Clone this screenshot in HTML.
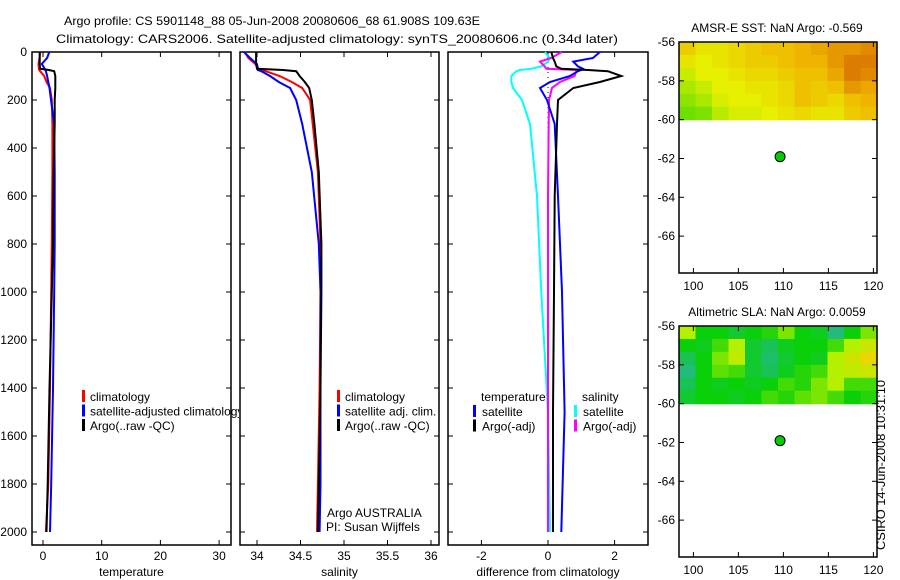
<!DOCTYPE html>
<html><head><meta charset="utf-8"><style>
html,body{margin:0;padding:0;background:#fff}
svg{display:block;font-family:"Liberation Sans",sans-serif}
text{font-size:12px;fill:#000}
</style></head><body>
<svg id="c" width="900" height="580" viewBox="0 0 900 580" xmlns="http://www.w3.org/2000/svg">
<text x="64" y="25" textLength="416" lengthAdjust="spacingAndGlyphs">Argo profile: CS 5901148_88 05-Jun-2008 20080606_68 61.908S 109.63E</text>
<text x="56" y="43" textLength="562" lengthAdjust="spacingAndGlyphs">Climatology: CARS2006. Satellite-adjusted climatology: synTS_20080606.nc (0.34d later)</text>
<text x="885" y="550" transform="rotate(-90 885 550)" textLength="170" lengthAdjust="spacingAndGlyphs">CSIRO 14-Jun-2008 10:31:10</text>
<g id="g"></g>
</svg>
<script>
// ---- data ----
const depthTicks=[0,200,400,600,800,1000,1200,1400,1600,1800,2000];
const tempTicks=[0,10,20,30];
const salTicks=[34,34.5,35,35.5,36];
const salTickLabels=["34","34.5","35","35.5","36"];
const diffTicks=[-2,0,2];
const depthP=[0,25,50,70,75,80,100,125,150,200,300,500,800,1000,1400,1800,2000];
const tempClim=[-0.5,-0.6,-0.77,-0.7,-0.65,-0.5,0.2,0.6,1.2,1.5,1.6,1.6,1.5,1.4,1.2,0.9,0.5];
const tempSat=[1.07,0.7,-0.2,0.3,0.4,0.5,0.7,0.9,1.1,1.36,1.9,2.0,2.0,1.9,1.7,1.4,1.2];
const tempArgo=[-0.57,-0.57,-0.57,-0.5,1.0,1.9,2.1,2.1,2.1,2.0,2.0,1.8,1.7,1.5,1.1,0.8,0.6];
const salClim=[33.86,33.9,33.98,34.02,34.05,34.1,34.26,34.4,34.52,34.61,34.64,34.70,34.73,34.73,34.72,34.70,34.69];
const salSat=[33.85,33.92,34.0,34.01,34.01,34.05,34.15,34.25,34.38,34.45,34.52,34.63,34.71,34.73,34.73,34.73,34.72];
const salArgo=[33.99,33.99,33.99,34.0,34.3,34.45,34.49,34.55,34.6,34.63,34.66,34.71,34.74,34.74,34.73,34.71,34.70];
const depthD=[0,25,40,60,70,75,80,100,125,150,200,300,600,1000,1500,2000];
const dTempArgo=[0.1,0.15,0.2,0.25,0.4,1.2,1.8,2.2,1.56,0.76,0.3,0.27,0.2,0.18,0.15,0.15];
const dTempSat=[1.56,1.35,0.76,0.9,1.05,1.0,0.9,0.66,0.06,-0.24,-0.03,0.2,0.3,0.42,0.5,0.4];
const dSalArgo=[0.41,0.1,-0.24,-0.1,-0.05,0.9,0.85,0.8,0.36,0.12,0.03,0.02,0.0,0.0,0.0,0.0];
const dSalSat=[-0.09,0.05,0.0,-0.2,-0.5,-0.84,-0.95,-1.1,-1.1,-1.05,-0.78,-0.54,-0.33,-0.2,0.0,0.06];
const lonTicks=[100,105,110,115,120];
const latTicks=[-56,-58,-60,-62,-64,-66];
const sstGrid=[
[.65,.55,.55,.6,.65,.7,.7,.75,.8,.85,.85,.9],
[.55,.5,.55,.6,.65,.65,.7,.75,.75,.85,.95,.95],
[.4,.5,.5,.55,.6,.6,.65,.7,.7,.8,.95,.9],
[.3,.4,.5,.5,.55,.55,.6,.7,.65,.7,.85,.8],
[.2,.3,.45,.5,.5,.55,.6,.7,.65,.6,.7,.75],
[.1,.15,.35,.45,.45,.5,.55,.6,.55,.55,.65,.7]];
const slaGrid=[
[.7,.4,.4,.3,.4,.45,.6,.4,.35,.1,.4,.6],
[.4,.35,.5,.7,.3,.2,.35,.4,.4,.5,.7,.8],
[.2,.4,.6,.75,.3,.15,.3,.4,.35,.7,.8,.95],
[.1,.4,.55,.5,.3,.2,.35,.45,.5,.7,.75,.8],
[.2,.4,.35,.4,.35,.4,.5,.45,.6,.7,.5,.5],
[.3,.4,.4,.35,.4,.5,.45,.55,.6,.5,.4,.45]];
const argoLon=109.63, argoLat=-61.908;

// ---- drawing ----
const NS='http://www.w3.org/2000/svg';
const G=document.getElementById('g');
function el(t,a,p){const e=document.createElementNS(NS,t);for(const k in a)e.setAttribute(k,a[k]);(p||G).appendChild(e);return e;}
function txt(x,y,s,anchor,p){const e=el('text',{x:x,y:y,'text-anchor':anchor||'start'},p);e.textContent=s;return e;}
const Y0=52,Y1=532;
const yD=d=>Y0+(Y1-Y0)*d/2000;
const panels=[
 {name:'temperature',x0:32,x1:231,v0:0,px0:43,scale:5.87,ticks:tempTicks,labels:tempTicks.map(String),title:'temperature'},
 {name:'salinity',x0:240,x1:439,v0:34,px0:257,scale:87,ticks:salTicks,labels:salTickLabels,title:'salinity'},
 {name:'difference',x0:448,x1:648,v0:0,px0:548,scale:33.3,ticks:diffTicks,labels:diffTicks.map(String),title:'difference from climatology'}];
panels.forEach((P,i)=>{
 P.fx=v=>P.px0+(v-P.v0)*P.scale;
 const g=el('g',{});
 
 
 P.g=g;
 const cp=el('clipPath',{id:'cp'+i},g);el('rect',{x:P.x0,y:50,width:P.x1-P.x0,height:496},cp);
 const r=el('rect',{x:P.x0,y:Y0,width:P.x1-P.x0,height:545-Y0,fill:'none',stroke:'#000','stroke-width':1.5},g);
 
 
 depthTicks.forEach(d=>{const y=yD(d);
  el('line',{x1:P.x0,x2:P.x0+5,y1:y,y2:y,stroke:'#000'},g);
  el('line',{x1:P.x1-5,x2:P.x1,y1:y,y2:y,stroke:'#000'},g);
  if(i===0){const t=txt(P.x0-5,y+4,String(d),'end',g);
   
   }
 });
 P.ticks.forEach((v,k)=>{const x=P.fx(v);
  el('line',{x1:x,x2:x,y1:Y0,y2:Y0+5,stroke:'#000'},g);
  el('line',{x1:x,x2:x,y1:540,y2:545,stroke:'#000'},g);
  const t=txt(x,560,P.labels[k],'middle',g);
  
  
 });
 const tt=txt((P.x0+P.x1)/2,576,P.title,'middle',g);
 
 
});
function series(P,depths,vals,color,name){
 const pts=depths.map((d,k)=>P.fx(vals[k]).toFixed(1)+','+yD(d).toFixed(1)).join(' ');
 const l=el('polyline',{points:pts,fill:'none',stroke:color,'stroke-width':2,'clip-path':'url(#cp'+panels.indexOf(P)+')'},P.g);
 
 
}
// zero dotted line
el('line',{x1:panels[2].fx(0),x2:panels[2].fx(0),y1:Y0,y2:Y1,stroke:'#000','stroke-dasharray':'1,4'},panels[2].g);
series(panels[0],depthP,tempClim,'#f00','temp-climatology-line');
series(panels[0],depthP,tempSat,'#00f','temp-satellite-line');
series(panels[0],depthP,tempArgo,'#000','temp-argo-line');
series(panels[1],depthP,salClim,'#f00','sal-climatology-line');
series(panels[1],depthP,salSat,'#00f','sal-satellite-line');
series(panels[1],depthP,salArgo,'#000','sal-argo-line');
series(panels[2],depthD,dSalSat,'#0ff','diff-sal-satellite-line');
series(panels[2],depthD,dSalArgo,'#f0f','diff-sal-argo-line');
series(panels[2],depthD,dTempSat,'#00f','diff-temp-satellite-line');
series(panels[2],depthD,dTempArgo,'#000','diff-temp-argo-line');
function legend(P,x,y,color,label,name){
 const g=el('g',{'clip-path':'url(#cpL'+name+')'},P.g);
 
 
 if(color)el('rect',{x:x,y:y-10,width:3,height:12,fill:color},g);
 txt(x+(color?9:0),y,label,'start',g);
}
const cl=el('clipPath',{id:'cpLeg1'});el('rect',{x:32,y:0,width:207,height:580},cl);
const lg1=el('g',{'clip-path':'url(#cpLeg1)'},panels[0].g);
[['#f00','climatology'],['#00f','satellite-adjusted climatology'],['#000','Argo(..raw -QC)']].forEach((a,k)=>{
 const g=el('g',{},lg1);
 
 
 el('rect',{x:82,y:390+k*14.5,width:3,height:12,fill:a[0]},g);txt(90,401+k*14.5,a[1],'start',g);
});
[['#f00','climatology'],['#00f','satellite adj. clim.'],['#000','Argo(..raw -QC)']].forEach((a,k)=>{
 const g=el('g',{},panels[1].g);
 
 
 el('rect',{x:337,y:390+k*14.5,width:3,height:12,fill:a[0]},g);txt(345,401+k*14.5,a[1],'start',g);
});
const ag=el('g',{},panels[1].g);


txt(327,517,'Argo AUSTRALIA','start',ag);txt(326,531,'PI: Susan Wijffels','start',ag);
txt(481,401,'temperature','start',panels[2].g);txt(582,401,'salinity','start',panels[2].g);
[['#00f','satellite',473],['#000','Argo(-adj)',473],['#0ff','satellite',574],['#f0f','Argo(-adj)',574]].forEach((a,k)=>{
 const g=el('g',{},panels[2].g);
 
 
 const r=k%2;
 el('rect',{x:a[2],y:405+r*14.5,width:3,height:12,fill:a[0]},g);txt(a[2]+9,416+r*14.5,a[1],'start',g);
});
// ---- maps ----
function lerp(a,b,t){return a.map((v,i)=>Math.round(v+(b[i]-v)*t));}
function cmap(stops,v){for(let i=1;i<stops.length;i++){if(v<=stops[i][0]){const t=(v-stops[i-1][0])/(stops[i][0]-stops[i-1][0]);const c=lerp(stops[i-1][1],stops[i][1],t);return 'rgb('+c.join(',')+')';}}const c=stops[stops.length-1][1];return 'rgb('+c.join(',')+')';}
const sstStops=[[0,[80,220,0]],[0.5,[230,240,0]],[0.75,[240,180,0]],[1,[215,110,0]]];
const slaStops=[[0,[40,180,160]],[0.4,[10,208,10]],[0.7,[180,240,0]],[1,[245,210,0]]];
function map(top,bottom,title,grid,stops,name){
 const g=el('g',{});
 
 
 const X0=679,X1=877,lonA=98.4,lonB=120.4;
 const fx=l=>X0+(l-lonA)*(X1-X0)/(lonB-lonA);
 const ppd=(bottom-top)/11.9;
 const fy=la=>top+(-56-la)*ppd;
 const rows=grid.length,cols=grid[0].length;
 const cw=(X1-X0)/cols, ch=(fy(-60)-fy(-56))/rows;
 grid.forEach((row,r)=>row.forEach((v,c)=>{
  const rc=el('rect',{x:(X0+c*cw).toFixed(2),y:(fy(-56)+r*ch).toFixed(2),width:(cw+0.6).toFixed(2),height:(ch+0.6).toFixed(2),fill:cmap(stops,v)},g);
  
  
 }));
 el('rect',{x:X0,y:top,width:X1-X0,height:bottom-top,fill:'none',stroke:'#000','stroke-width':1.5},g);
 latTicks.forEach(la=>{const y=fy(la);
  el('line',{x1:X0,x2:X0+5,y1:y,y2:y,stroke:'#000'},g);el('line',{x1:X1-5,x2:X1,y1:y,y2:y,stroke:'#000'},g);
  const t=txt(X0-4,y+4,String(la),'end',g);
  
  });
 lonTicks.forEach(lo=>{const x=fx(lo);
  el('line',{x1:x,x2:x,y1:top,y2:top+5,stroke:'#000'},g);el('line',{x1:x,x2:x,y1:bottom-5,y2:bottom,stroke:'#000'},g);
  const t=txt(x,bottom+17,String(lo),'middle',g);
  
  });
 const tt=txt(777,top-10,title,'middle',g);
 
 
 const d=el('circle',{cx:fx(argoLon),cy:fy(argoLat),r:5,fill:'#00cc00',stroke:'#000','stroke-width':1},g);
 
 
}
map(42,273,'AMSR-E SST: NaN Argo: -0.569',sstGrid,sstStops,'sst-map');
map(326,557,'Altimetric SLA: NaN Argo: 0.0059',slaGrid,slaStops,'sla-map');
</script>
</body></html>
